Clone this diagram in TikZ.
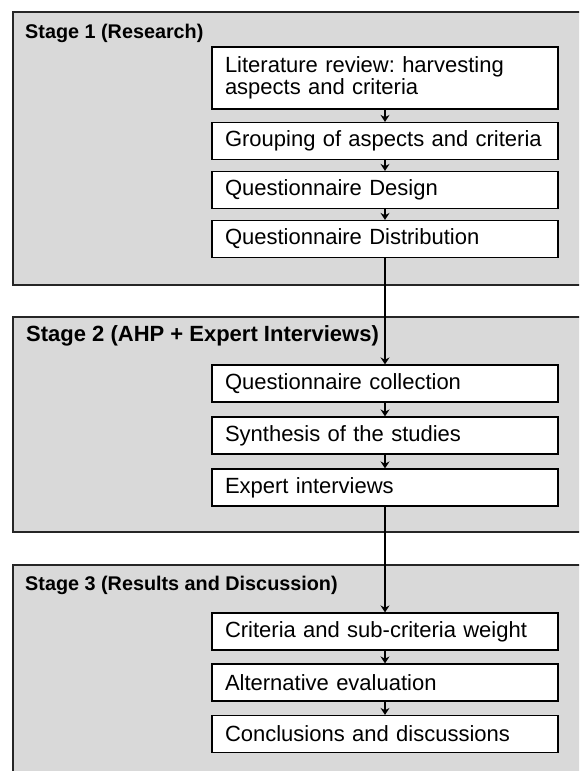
\documentclass[tikz,border=0pt]{standalone}
\usepackage{fontspec}
\setmainfont{Liberation Sans}
\usetikzlibrary{arrows.meta}
\definecolor{panelgray}{HTML}{D9D9D9}
\frenchspacing
\begin{document}
\begin{tikzpicture}[x=1pt,y=-1pt,line join=miter]
	\tikzset{stepbox/.style={draw=black,line width=1.2pt,fill=white,minimum width=346pt,minimum height=37pt,
			text width=320pt,inner xsep=13pt,inner ysep=0pt,align=left,font=\fontsize{22}{22}\selectfont},
		panel/.style={draw=black!85,line width=1.5pt,fill=panelgray},
		stagetitle/.style={anchor=base west,inner sep=0pt,font=\fontsize{19.8}{22}\selectfont\bfseries},
		link/.style={-{Stealth[length=7pt,width=9pt]},line width=1.2pt}}
	\def \bx{385}
	\useasboundingbox (0,0) rectangle (579,771);
	\clip (0,0) rectangle (579,771);
	% stage panels
	\draw[panel] (13,12) rectangle (600,285);
	\draw[panel] (13,317) rectangle (600,532);
	\draw[panel] (13,565) rectangle (600,800);
	\node[stagetitle] (t1) at (25,38) {Stage 1 (Research)};
	\node[stagetitle,font=\fontsize{22}{22}\selectfont\bfseries] (t2) at (26,341) {Stage 2 (AHP + Expert Interviews)};
	\node[stagetitle] (t3) at (25,590) {Stage 3 (Results and Discussion)};
	% stage 1
	\node[stepbox,minimum height=62pt] (lit) at (\bx,78) {Literature review: harvesting\\aspects and criteria};
	\node[stepbox] (grp) at (\bx,141) {Grouping of aspects and criteria};
	\node[stepbox] (qdes) at (\bx,190) {Questionnaire Design};
	\node[stepbox] (qdis) at (\bx,239) {Questionnaire Distribution};
	% stage 2
	\node[stepbox] (qcol) at (\bx,383.5) {Questionnaire collection};
	\node[stepbox] (syn) at (\bx,435.5) {Synthesis of the studies};
	\node[stepbox] (exp) at (\bx,487.5) {Expert interviews};
	% stage 3
	\node[stepbox] (crit) at (\bx,631.5) {Criteria and sub-criteria weight};
	\node[stepbox] (alt) at (\bx,682.5) {Alternative evaluation};
	\node[stepbox] (conc) at (\bx,734) {Conclusions and discussions};
	% connectors
	\foreach \a/\b in {lit/grp,grp/qdes,qdes/qdis,qdis/qcol,qcol/syn,syn/exp,exp/crit,crit/alt,alt/conc}
		\draw[link] (\a.south) -- (\b.north);
\end{tikzpicture}
\end{document}
